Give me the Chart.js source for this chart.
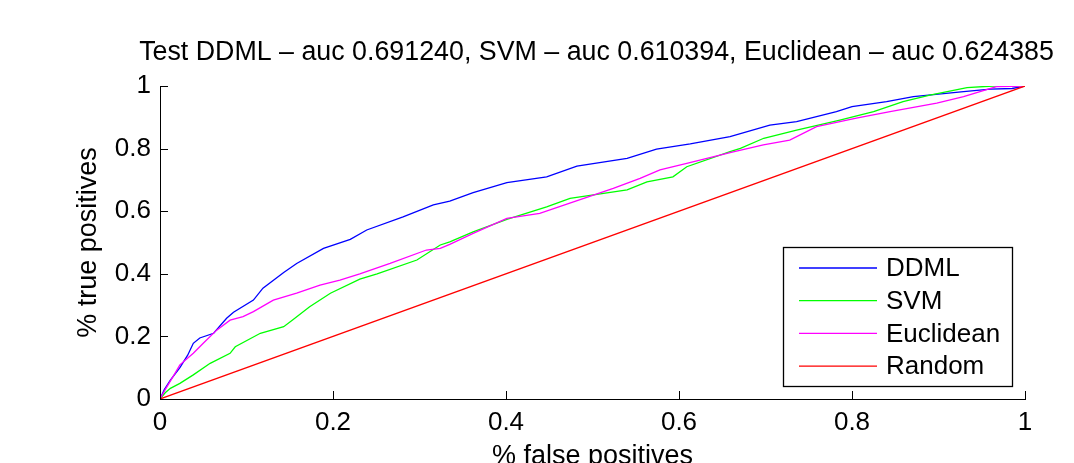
<!DOCTYPE html>
<html>
<head>
<meta charset="utf-8">
<script src="https://cdn.jsdelivr.net/npm/chart.js@4"></script>
<style>
  html, body { margin: 0; padding: 0; background: #fff; }
</style>
</head>
<body>
<canvas id="roc" width="1074" height="463"></canvas>
<script>
// ── Data ──────────────────────────────────────────────────────────────────

const ddmlFpr = [0, 0.005, 0.012, 0.023, 0.032, 0.0385, 0.046, 0.062, 0.077, 0.085, 0.108, 0.119, 0.143, 0.158, 0.189, 0.22, 0.239, 0.281, 0.316, 0.335, 0.362, 0.401, 0.447, 0.482, 0.54, 0.574, 0.613, 0.659, 0.705, 0.736, 0.782, 0.80, 0.84, 0.871, 0.929, 0.96, 0.985, 1];
const ddmlTpr = [0, 0.03, 0.06, 0.10, 0.14, 0.178, 0.195, 0.21, 0.258, 0.277, 0.316, 0.354, 0.404, 0.433, 0.481, 0.51, 0.54, 0.582, 0.62, 0.632, 0.659, 0.691, 0.71, 0.744, 0.769, 0.798, 0.815, 0.838, 0.875, 0.886, 0.918, 0.934, 0.95, 0.966, 0.982, 0.99, 0.992, 1];

const svmFpr = [0, 0.006, 0.012, 0.023, 0.0385, 0.058, 0.081, 0.087, 0.116, 0.143, 0.154, 0.173, 0.197, 0.231, 0.251, 0.297, 0.324, 0.335, 0.362, 0.401, 0.447, 0.474, 0.54, 0.563, 0.593, 0.609, 0.659, 0.671, 0.698, 0.736, 0.786, 0.825, 0.859, 0.89, 0.933, 0.963, 1];
const svmTpr = [0, 0.02, 0.034, 0.05, 0.077, 0.114, 0.146, 0.167, 0.21, 0.231, 0.254, 0.295, 0.338, 0.383, 0.40, 0.444, 0.492, 0.502, 0.534, 0.574, 0.614, 0.641, 0.668, 0.694, 0.71, 0.742, 0.79, 0.801, 0.833, 0.859, 0.891, 0.918, 0.95, 0.971, 0.995, 1, 1];

const euclFpr = [0, 0.006, 0.0173, 0.023, 0.0385, 0.05, 0.0655, 0.081, 0.096, 0.108, 0.131, 0.158, 0.185, 0.208, 0.231, 0.266, 0.308, 0.324, 0.335, 0.362, 0.401, 0.439, 0.478, 0.524, 0.555, 0.578, 0.609, 0.659, 0.6975, 0.728, 0.759, 0.805, 0.844, 0.898, 0.929, 0.967, 1];
const euclTpr = [0, 0.03, 0.082, 0.109, 0.146, 0.178, 0.22, 0.252, 0.263, 0.279, 0.316, 0.338, 0.364, 0.38, 0.40, 0.433, 0.476, 0.481, 0.494, 0.529, 0.577, 0.593, 0.63, 0.673, 0.705, 0.732, 0.753, 0.787, 0.812, 0.827, 0.87, 0.897, 0.918, 0.945, 0.966, 0.998, 1];

const randomFpr = [0, 1];
const randomTpr = [0, 1];

const seriesNames  = ['DDML', 'SVM', 'Euclidean', 'Random'];
const seriesColors = ['#0000ff', '#00ff00', '#ff00ff', '#ff0000'];

const tickValues = [0, 0.2, 0.4, 0.6, 0.8, 1];
const tickLabels = ['0', '0.2', '0.4', '0.6', '0.8', '1'];

const titleText = 'Test DDML \u2013 auc 0.691240, SVM \u2013 auc 0.610394, Euclidean \u2013 auc 0.624385';

// ── Helpers ───────────────────────────────────────────────────────────────

const FONT = "'Liberation Sans', Arial, Helvetica, sans-serif";
const toPoints = (xs, ys) => xs.map((x, i) => ({ x, y: ys[i] }));

const curves = [
  toPoints(ddmlFpr, ddmlTpr),
  toPoints(svmFpr, svmTpr),
  toPoints(euclFpr, euclTpr),
  toPoints(randomFpr, randomTpr),
];

// MATLAB-style ticks that point into the axes
const inwardTicks = {
  id: 'inwardTicks',
  afterDatasetsDraw(chart) {
    const { ctx, chartArea, scales: { x, y } } = chart;
    ctx.save();
    ctx.strokeStyle = '#000';
    ctx.lineWidth = 1;
    ctx.beginPath();
    x.ticks.forEach(t => {
      const px = Math.round(x.getPixelForValue(t.value)) + 0.5;
      ctx.moveTo(px, chartArea.bottom);
      ctx.lineTo(px, chartArea.bottom - 8);
    });
    y.ticks.forEach(t => {
      const py = Math.round(y.getPixelForValue(t.value)) + 0.5;
      ctx.moveTo(chartArea.left, py);
      ctx.lineTo(chartArea.left + 8, py);
    });
    ctx.stroke();
    ctx.restore();
  },
};

// title centred over the axes, not squeezed to the plot width
const plotTitle = {
  id: 'plotTitle',
  afterDraw(chart) {
    const { ctx, chartArea } = chart;
    ctx.save();
    ctx.font = `26.8px ${FONT}`;
    ctx.fillStyle = '#000';
    ctx.textAlign = 'center';
    ctx.textBaseline = 'middle';
    ctx.fillText(titleText, (chartArea.left + chartArea.right) / 2 + 4, 53);
    ctx.restore();
  },
};

// boxed legend in the lower right of the axes
const boxLegend = {
  id: 'boxLegend',
  afterDraw(chart) {
    const { ctx } = chart;
    const bx = 783.5, by = 247.5, bw = 229, bh = 139;
    ctx.save();
    ctx.fillStyle = '#fff';
    ctx.fillRect(bx, by, bw, bh);
    ctx.strokeStyle = '#000';
    ctx.lineWidth = 1.3;
    ctx.strokeRect(bx, by, bw, bh);
    ctx.font = `26px ${FONT}`;
    ctx.textBaseline = 'middle';
    ctx.textAlign = 'left';
    chart.data.datasets.forEach((ds, i) => {
      const rowY = 268 + i * 32.7;
      ctx.strokeStyle = ds.borderColor;
      ctx.lineWidth = 1.3;
      ctx.beginPath();
      ctx.moveTo(799, rowY);
      ctx.lineTo(877, rowY);
      ctx.stroke();
      ctx.fillStyle = '#000';
      ctx.fillText(ds.label, 886, rowY + 1);
    });
    ctx.restore();
  },
};

// ── Chart ─────────────────────────────────────────────────────────────────

new Chart(document.getElementById('roc'), {
  type: 'line',
  data: {
    datasets: seriesNames.map((name, i) => ({
      label: name,
      data: curves[i],
      borderColor: seriesColors[i],
      borderWidth: 1.3,
      pointRadius: 0,
      tension: 0,
      fill: false,
      order: seriesNames.length - i,
    })),
  },
  options: {
    responsive: false,
    animation: false,
    layout: { padding: { top: 86, right: 49, bottom: 0, left: 0 } },
    scales: {
      x: {
        type: 'linear',
        min: 0,
        max: 1,
        afterBuildTicks: s => { s.ticks = tickValues.map(v => ({ value: v })); },
        afterFit: s => { s.height = 64; },
        grid: { display: false, drawTicks: false },
        border: { display: true, color: '#000', width: 1 },
        ticks: {
          color: '#000',
          padding: 8.5,
          maxRotation: 0,
          font: { family: FONT, size: 26 },
          callback: (v, i) => tickLabels[i],
        },
        title: {
          display: true,
          text: '% false positives',
          color: '#000',
          font: { family: FONT, size: 27 },
          padding: { top: 0, bottom: -10 },
        },
      },
      y: {
        type: 'linear',
        min: 0,
        max: 1,
        afterBuildTicks: s => { s.ticks = tickValues.map(v => ({ value: v })); },
        afterFit: s => { s.width = 160; },
        grid: { display: false, drawTicks: false },
        border: { display: true, color: '#000', width: 1 },
        ticks: {
          color: '#000',
          padding: 9,
          font: { family: FONT, size: 26 },
          callback: (v, i) => tickLabels[i],
        },
        title: {
          display: true,
          text: '% true positives',
          color: '#000',
          font: { family: FONT, size: 27 },
          padding: { top: 72, bottom: 0 },
        },
      },
    },
    plugins: {
      legend: { display: false },
      tooltip: { enabled: false },
      title: { display: false },
    },
  },
  plugins: [inwardTicks, plotTitle, boxLegend],
});
</script>
</body>
</html>
